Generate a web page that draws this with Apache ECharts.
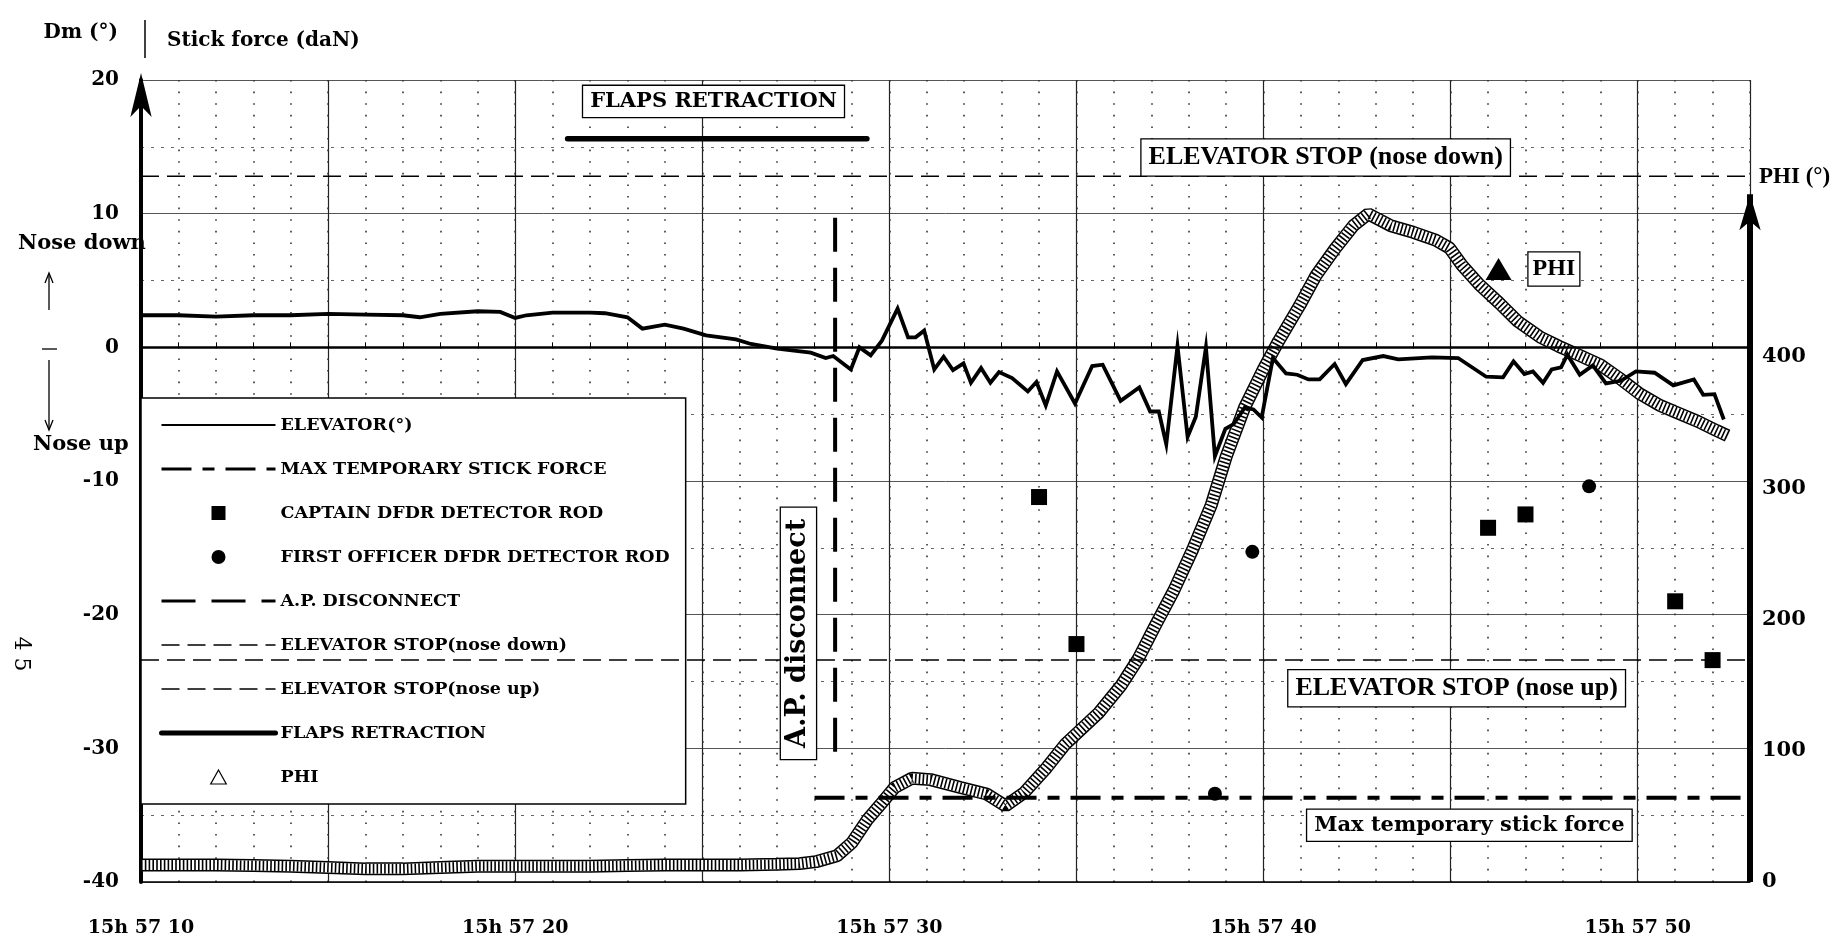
<!DOCTYPE html>
<html>
<head>
<meta charset="utf-8">
<script src="https://cdn.jsdelivr.net/npm/echarts@6/dist/echarts.min.js"></script>
<style>html,body{margin:0;padding:0;background:#fff}#c{width:1847px;height:947px}</style>
</head>
<body>
<div id="c"></div>
<script>
// ---------------- data ----------------
const timeRange = [10, 53];                       // seconds after 15h57
const xLabelSeconds = [10, 20, 30, 40, 50];
const xLabelPrefix = '15h 57 ';
const leftAxisRange = [-40, 20];
const rightAxisRange = [0, 611];
const rightAxisMaxLabel = 400;

const elevTime = [10.0, 11.0, 12.0, 13.0, 14.0, 15.0, 16.0, 17.0, 17.45, 18.0, 19.0, 19.6, 20.0, 20.3, 21.0, 22.0, 22.4, 23.0, 23.4, 24.0, 24.5, 25.1, 25.9, 26.3, 27.0, 27.9, 28.3, 28.5, 28.97, 29.2, 29.5, 29.8, 30.22, 30.5, 30.7, 30.93, 31.2, 31.45, 31.7, 31.98, 32.18, 32.45, 32.7, 32.93, 33.28, 33.7, 33.93, 34.18, 34.48, 34.96, 35.42, 35.7, 36.18, 36.68, 36.97, 37.2, 37.4, 37.7, 37.97, 38.19, 38.46, 38.7, 38.98, 39.2, 39.5, 39.73, 39.95, 40.25, 40.6, 40.9, 41.2, 41.5, 41.9, 42.2, 42.65, 43.2, 43.6, 44.5, 45.2, 45.95, 46.4, 46.68, 46.97, 47.2, 47.47, 47.7, 47.95, 48.12, 48.45, 48.8, 49.15, 49.55, 49.95, 50.45, 50.95, 51.5, 51.75, 52.05, 52.3];
const elevDeg = [2.4, 2.4, 2.3, 2.4, 2.4, 2.5, 2.45, 2.4, 2.25, 2.5, 2.7, 2.65, 2.2, 2.4, 2.6, 2.6, 2.55, 2.25, 1.4, 1.7, 1.4, 0.9, 0.6, 0.25, -0.1, -0.4, -0.8, -0.65, -1.65, 0.0, -0.6, 0.5, 2.9, 0.75, 0.75, 1.25, -1.65, -0.7, -1.7, -1.2, -2.65, -1.55, -2.65, -1.85, -2.3, -3.3, -2.6, -4.35, -1.8, -4.2, -1.4, -1.3, -4.0, -3.0, -4.8, -4.8, -7.25, 0.1, -6.7, -5.2, 0.0, -8.15, -6.1, -5.75, -4.5, -4.65, -5.25, -0.8, -1.95, -2.05, -2.4, -2.4, -1.25, -2.75, -0.95, -0.65, -0.9, -0.75, -0.8, -2.2, -2.25, -1.05, -2.0, -1.8, -2.65, -1.65, -1.5, -0.55, -2.05, -1.35, -2.7, -2.5, -1.8, -1.9, -2.85, -2.4, -3.55, -3.5, -5.4];

const phiTime = [10, 11, 12, 13, 14, 15, 16, 17, 18, 19, 20, 21, 22, 23, 24, 25, 26, 27, 27.6, 28.04, 28.6, 29.0, 29.4, 29.76, 30.14, 30.6, 31.1, 31.9, 32.6, 33.1, 33.6, 34.2, 34.7, 35.6, 36.2, 36.65, 37.1, 37.6, 38.1, 38.6, 39.0, 39.5, 40.0, 40.4, 40.96, 41.4, 41.9, 42.4, 42.8, 43.4, 44.0, 44.6, 44.97, 45.3, 45.77, 46.3, 46.8, 47.4, 47.9, 48.46, 49.0, 49.5, 50.05, 50.6, 51.1, 51.6, 52.1, 52.4];
const phiDeg = [13, 13, 13, 12.5, 12, 11, 10, 10, 11, 12, 12, 12, 12, 12.5, 13, 13, 13, 13.5, 14, 15.5, 20, 30, 47, 59, 72, 79, 78, 72, 67, 58, 68, 87, 105, 129, 150, 170, 195, 222, 253, 287, 324, 362, 391, 412, 439, 462, 482, 500, 509, 500, 495, 489, 483, 470, 455, 441, 427, 415, 408, 401, 394, 384, 372, 363, 357, 351, 344, 340];

const captainTime = [34.0, 35.0, 46.0, 47.0, 51.0, 52.0];
const captainValue = [-11.2, -22.2, -13.5, -12.5, -19.0, -23.4];
const firstOfficerTime = [38.7, 39.7, 48.7];
const firstOfficerValue = [-33.4, -15.3, -10.4];

const stopNoseDown = 12.8;
const stopNoseUp = -23.4;
const maxStickForce = -33.7;
const maxStickStart = 28.0;
const apDisconnectTime = 28.55;
const apDisconnectSpan = [9.7, -30.3];
const flapsTime = [21.4, 29.4];
const flapsLevel = 15.6;
const phiAxisTop = 524;

// annotation anchor points (data coordinates)
const flapsLabelAt = [25.3, 18.4];
const noseDownLabelAt = [41.66, 14.2];
const noseUpLabelAt = [45.16, -25.5];
const maxStickLabelAt = [45.5, -35.75];
const apLabelAt = [27.57, -21.4];
const phiMarkerAt = [46.28, 467];

// ---------------- helpers ----------------
const zip = (xs, ys) => xs.map((x, i) => [x, ys[i]]);
const SERIF = '"DejaVu Serif", serif';
const TIMES = '"Liberation Serif", serif';
const boxLabel = (text, font, size, extra) => Object.assign({
  show: true, position: 'inside', formatter: text,
  fontFamily: font, fontWeight: 'bold', fontSize: size, color: '#000',
  backgroundColor: '#fff', borderColor: '#000', borderWidth: 1.3,
  padding: [6, 7, 4, 7]
}, extra || {});
const invisibleMark = (coord, label) => ({
  symbol: 'rect', symbolSize: 1, silent: true,
  itemStyle: { color: 'transparent' },
  label: label,
  data: [{ coord: coord }]
});
const hideSym = { opacity: 0 };

const chart = echarts.init(document.getElementById('c'), null, { renderer: 'canvas' });

const option = {
  animation: false,
  backgroundColor: '#fff',
  grid: { left: 141, right: 97, top: 80, bottom: 65, containLabel: false },
  xAxis: [
    {
      type: 'value', min: timeRange[0], max: timeRange[1], interval: 5, position: 'bottom',
      axisLine: { show: true, onZero: false, lineStyle: { color: '#000', width: 1.5 } },
      axisTick: { show: false },
      axisLabel: {
        margin: 37, color: '#000', fontFamily: SERIF, fontWeight: 'bold', fontSize: 19,
        formatter: v => xLabelSeconds.indexOf(v) >= 0 ? xLabelPrefix + v : ''
      },
      splitLine: { show: true, lineStyle: { color: '#222', width: 1.2 } }
    },
    {
      type: 'value', min: timeRange[0], max: timeRange[1], interval: 1, position: 'bottom',
      axisLine: { show: false },
      axisLabel: { show: false },
      axisTick: { show: true, inside: true, length: 5, lineStyle: { color: '#000', width: 1 } },
      splitLine: { show: true, lineStyle: { color: '#333', width: 1.6, type: [1.6, 10] } }
    }
  ],
  yAxis: [
    {
      type: 'value', min: leftAxisRange[0], max: leftAxisRange[1], interval: 10,
      axisLine: {
        show: true, onZero: false, symbol: ['none', 'arrow'], symbolSize: [16, 44], symbolOffset: [0, 7],
        lineStyle: { color: '#000', width: 4 }
      },
      axisTick: { show: false },
      axisLabel: { margin: 22, color: '#000', fontFamily: SERIF, fontWeight: 'bold', fontSize: 20 },
      splitLine: { show: true, lineStyle: { color: '#555', width: 1 } },
      minorTick: { show: false, splitNumber: 2 },
      minorSplitLine: { show: true, lineStyle: { color: '#666', width: 1.2, type: [3, 7] } }
    },
    {
      type: 'value', position: 'right', min: rightAxisRange[0], max: rightAxisRange[1], interval: 100,
      axisLine: { show: false }, axisTick: { show: false }, splitLine: { show: false },
      axisLabel: {
        margin: 12, color: '#000', fontFamily: SERIF, fontWeight: 'bold', fontSize: 21,
        formatter: v => v <= rightAxisMaxLabel ? String(v) : ''
      }
    }
  ],
  legend: {
    orient: 'vertical', left: 141, top: 398,
    padding: [18, 16, 18, 18], itemGap: 26, itemWidth: 114, itemHeight: 14,
    backgroundColor: '#fff', borderColor: '#000', borderWidth: 1.5,
    textStyle: { fontFamily: SERIF, fontWeight: 'bold', fontSize: 17.5, color: '#000' },
    selectedMode: false,
    data: [
      { name: 'ELEVATOR(°)', itemStyle: hideSym, lineStyle: { width: 2, color: '#000' } },
      { name: 'MAX TEMPORARY STICK FORCE', itemStyle: hideSym, lineStyle: { width: 3, color: '#000' } },
      { name: 'CAPTAIN DFDR DETECTOR ROD', icon: 'path://M0,0H10V10H0Z', itemStyle: { color: '#000', opacity: 1 } },
      { name: 'FIRST OFFICER DFDR DETECTOR ROD', icon: 'circle', itemStyle: { color: '#000', opacity: 1 } },
      { name: 'A.P. DISCONNECT', itemStyle: hideSym, lineStyle: { width: 3, color: '#000' } },
      { name: 'ELEVATOR STOP(nose down)', itemStyle: hideSym, lineStyle: { width: 1.5, color: '#000' } },
      { name: 'ELEVATOR STOP(nose up)', itemStyle: hideSym, lineStyle: { width: 1.5, color: '#000' } },
      { name: 'FLAPS RETRACTION', itemStyle: hideSym, lineStyle: { width: 5, color: '#000' } },
      { name: 'PHI', icon: 'path://M5,0L10,9H0Z', itemStyle: { color: '#fff', borderColor: '#000', borderWidth: 1.2, opacity: 1 } }
    ]
  },
  series: [
    // PHI band (edge, fill, hatch)
    {
      name: 'PHI edge', type: 'line', yAxisIndex: 1, symbol: 'none', z: 3, silent: true,
      data: zip(phiTime, phiDeg), lineStyle: { color: '#000', width: 13 }
    },
    {
      name: 'PHI fill', type: 'line', yAxisIndex: 1, symbol: 'none', z: 3, silent: true,
      data: zip(phiTime, phiDeg), lineStyle: { color: '#fff', width: 10 }
    },
    {
      name: 'PHI', type: 'line', yAxisIndex: 1, symbol: 'none', z: 4,
      data: zip(phiTime, phiDeg),
      lineStyle: { color: '#000', width: 10, type: [1.6, 2.2], cap: 'butt' },
      itemStyle: { color: '#fff', borderColor: '#000' },
      markPoint: {
        silent: true,
        data: [{
          coord: phiMarkerAt, symbol: 'triangle', symbolSize: [26, 22],
          itemStyle: { color: '#000' },
          label: boxLabel('PHI', TIMES, 24, { position: 'right', distance: 17, padding: [6, 4, 3, 4] })
        }]
      },
      markLine: {
        silent: true, symbol: ['none', 'arrow'], symbolSize: [16, 36],
        label: { show: false },
        lineStyle: { color: '#000', width: 6, type: 'solid' },
        data: [[{ coord: [timeRange[1], rightAxisRange[0]] }, { coord: [timeRange[1], phiAxisTop] }]]
      }
    },
    {
      name: 'ELEVATOR STOP(nose down)', type: 'line', symbol: 'none', z: 4,
      data: [[timeRange[0], stopNoseDown], [timeRange[1], stopNoseDown]],
      lineStyle: { color: '#000', width: 1.5, type: [18, 8] },
      markPoint: invisibleMark(noseDownLabelAt, boxLabel('ELEVATOR STOP (nose down)', TIMES, 26))
    },
    {
      name: 'ELEVATOR STOP(nose up)', type: 'line', symbol: 'none', z: 4,
      data: [[timeRange[0], stopNoseUp], [timeRange[1], stopNoseUp]],
      lineStyle: { color: '#000', width: 1.5, type: [18, 8] },
      markPoint: invisibleMark(noseUpLabelAt, boxLabel('ELEVATOR STOP (nose up)', TIMES, 26))
    },
    {
      name: 'MAX TEMPORARY STICK FORCE', type: 'line', symbol: 'none', z: 4,
      data: [[maxStickStart, maxStickForce], [timeRange[1], maxStickForce]],
      lineStyle: { color: '#000', width: 4, type: [30, 11, 12, 11] },
      markPoint: invisibleMark(maxStickLabelAt, boxLabel('Max temporary stick force', SERIF, 21))
    },
    {
      name: 'A.P. DISCONNECT', type: 'line', symbol: 'none', z: 4,
      data: [[apDisconnectTime, apDisconnectSpan[0]], [apDisconnectTime, apDisconnectSpan[1]]],
      lineStyle: { color: '#000', width: 4, type: [34, 16] },
      markPoint: invisibleMark(apLabelAt, boxLabel('A.P. disconnect', SERIF, 27, { rotate: 90, padding: [5, 11, 3, 11] }))
    },
    {
      name: 'FLAPS RETRACTION', type: 'line', symbol: 'none', z: 4,
      data: [[flapsTime[0], flapsLevel], [flapsTime[1], flapsLevel]],
      lineStyle: { color: '#000', width: 5.5, cap: 'round' },
      markPoint: invisibleMark(flapsLabelAt, boxLabel('FLAPS RETRACTION', SERIF, 21))
    },
    {
      name: 'ELEVATOR(°)', type: 'line', symbol: 'none', z: 6,
      data: zip(elevTime, elevDeg),
      lineStyle: { color: '#000', width: 3.8, join: 'miter' },
      markLine: {
        silent: true, symbol: 'none', label: { show: false },
        lineStyle: { color: '#000', width: 2.6, type: 'solid' },
        data: [{ yAxis: 0 }]
      }
    },
    {
      name: 'CAPTAIN DFDR DETECTOR ROD', type: 'scatter', symbol: 'rect', symbolSize: 16, z: 7,
      data: zip(captainTime, captainValue), itemStyle: { color: '#000', opacity: 1 }
    },
    {
      name: 'FIRST OFFICER DFDR DETECTOR ROD', type: 'scatter', symbol: 'circle', symbolSize: 14, z: 7,
      data: zip(firstOfficerTime, firstOfficerValue), itemStyle: { color: '#000', opacity: 1 }
    }
  ],
  graphic: [
    { type: 'text', x: 118, y: 33, style: { text: 'Dm (°)', font: 'bold 20px "DejaVu Serif"', fill: '#000', align: 'right', verticalAlign: 'middle', textAlign: 'right', textVerticalAlign: 'middle' } },
    { type: 'line', shape: { x1: 145, y1: 20, x2: 145, y2: 58 }, style: { stroke: '#000', lineWidth: 1.5 } },
    { type: 'text', x: 167, y: 41, style: { text: 'Stick force (daN)', font: 'bold 20px "DejaVu Serif"', fill: '#000', align: 'left', verticalAlign: 'middle', textAlign: 'left', textVerticalAlign: 'middle' } },
    { type: 'text', x: 18, y: 244, style: { text: 'Nose down', font: 'bold 21px "DejaVu Serif"', fill: '#000', align: 'left', verticalAlign: 'middle', textAlign: 'left', textVerticalAlign: 'middle' } },
    { type: 'text', x: 33, y: 445, style: { text: 'Nose up', font: 'bold 21px "DejaVu Serif"', fill: '#000', align: 'left', verticalAlign: 'middle', textAlign: 'left', textVerticalAlign: 'middle' } },
    { type: 'line', shape: { x1: 49, y1: 310, x2: 49, y2: 274 }, style: { stroke: '#000', lineWidth: 1.3 } },
    { type: 'polyline', shape: { points: [[45, 283], [49, 273], [53, 283]] }, style: { stroke: '#000', lineWidth: 1.3, fill: null } },
    { type: 'line', shape: { x1: 42, y1: 349, x2: 57, y2: 349 }, style: { stroke: '#000', lineWidth: 1.3 } },
    { type: 'line', shape: { x1: 49, y1: 360, x2: 49, y2: 429 }, style: { stroke: '#000', lineWidth: 1.3 } },
    { type: 'polyline', shape: { points: [[45, 420], [49, 430], [53, 420]] }, style: { stroke: '#000', lineWidth: 1.3, fill: null } },
    { type: 'text', x: 21, y: 654, rotation: -Math.PI / 2, style: { text: '4 5', font: '22px "DejaVu Serif"', fill: '#000', align: 'center', verticalAlign: 'middle', textAlign: 'center', textVerticalAlign: 'middle' } },
    { type: 'text', x: 1759, y: 177, style: { text: 'PHI (°)', font: 'bold 23px "Liberation Serif"', fill: '#000', align: 'left', verticalAlign: 'middle', textAlign: 'left', textVerticalAlign: 'middle' } }
  ]
};
chart.setOption(option);
</script>
</body>
</html>
